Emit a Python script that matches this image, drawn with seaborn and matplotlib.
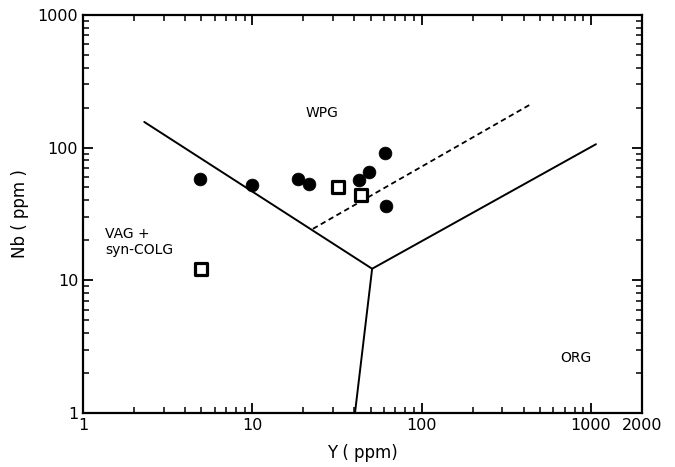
import matplotlib
matplotlib.use("Agg")
import matplotlib.pyplot as plt
import seaborn as sns
import numpy as np
import pandas as pd
from matplotlib.ticker import FixedLocator, FixedFormatter, LogLocator, NullFormatter

# Data
circle_y = [4.9, 10.0, 18.6, 21.6, 42.7, 48.9, 60.8, 61.6]
circle_nb = [58, 52, 58, 53, 57, 65.5, 91, 36.3]
square_y = [5.0, 32.0, 43.8]
square_nb = [12.2, 50.5, 44.0]

# Discrimination boundaries (Pearce et al.)
bnd_main_y = [2.3, 51, 1070]
bnd_main_nb = [156, 12.2, 106]
bnd_stem_y = [51, 40.4]
bnd_stem_nb = [12.2, 1.0]
bnd_dash_y = [22.8, 443]
bnd_dash_nb = [24.4, 213]

xticks = [1, 10, 100, 1000, 2000]
xticklabels = ["1", "10", "100", "1000", "2000"]
yticks = [1, 10, 100, 1000]
yticklabels = ["1", "10", "100", "1000"]

sns.set_style("ticks")
plt.rcParams["font.family"] = ["DejaVu Sans"]
plt.rcParams["text.color"] = "black"
plt.rcParams["axes.labelcolor"] = "black"

fig = plt.figure(figsize=(6.75, 4.67), dpi=100)
ax = fig.add_axes([0.123, 0.116, 0.828, 0.852])

sns.lineplot(x=bnd_main_y, y=bnd_main_nb, sort=False, estimator=None, color="black", lw=1.4, ax=ax)
sns.lineplot(x=bnd_stem_y, y=bnd_stem_nb, sort=False, estimator=None, color="black", lw=1.4, ax=ax)
sns.lineplot(x=bnd_dash_y, y=bnd_dash_nb, sort=False, estimator=None, color="black", lw=1.3,
             linestyle=(0, (3, 2)), ax=ax)

sns.scatterplot(x=circle_y, y=circle_nb, marker="o", s=85, color="black", edgecolor="black",
                linewidth=0.5, ax=ax, zorder=3)
sns.scatterplot(x=square_y, y=square_nb, marker="s", s=70, facecolor="white", edgecolor="black",
                linewidth=2.3, ax=ax, zorder=3)

ax.set_xscale("log")
ax.set_yscale("log")
ax.set_xlim(1, 2000)
ax.set_ylim(1, 1000)

ax.xaxis.set_major_locator(FixedLocator(xticks))
ax.xaxis.set_major_formatter(FixedFormatter(xticklabels))
ax.yaxis.set_major_locator(FixedLocator(yticks))
ax.yaxis.set_major_formatter(FixedFormatter(yticklabels))
ax.xaxis.set_minor_locator(LogLocator(base=10, subs=np.arange(2, 10)))
ax.yaxis.set_minor_locator(LogLocator(base=10, subs=np.arange(2, 10)))
ax.xaxis.set_minor_formatter(NullFormatter())
ax.yaxis.set_minor_formatter(NullFormatter())

ax.tick_params(which="both", direction="in", top=True, right=True, color="black",
               labelsize=11.5, labelcolor="black")
ax.tick_params(which="major", length=7, width=1.3)
ax.tick_params(which="minor", length=4, width=1.1)
for sp in ax.spines.values():
    sp.set_linewidth(1.6)
    sp.set_color("black")

ax.set_xlabel("Y ( ppm)", fontsize=12, labelpad=8)
ax.set_ylabel("Nb ( ppm )", fontsize=12, labelpad=6)

ax.text(25.8, 182, "WPG", fontsize=10, ha="center", va="center")
ax.text(1.35, 19.5, "VAG +\nsyn-COLG", fontsize=10, ha="left", va="center", linespacing=1.15)
ax.text(810, 2.6, "ORG", fontsize=10, ha="center", va="center")

fig.savefig("out.png", dpi=100)
